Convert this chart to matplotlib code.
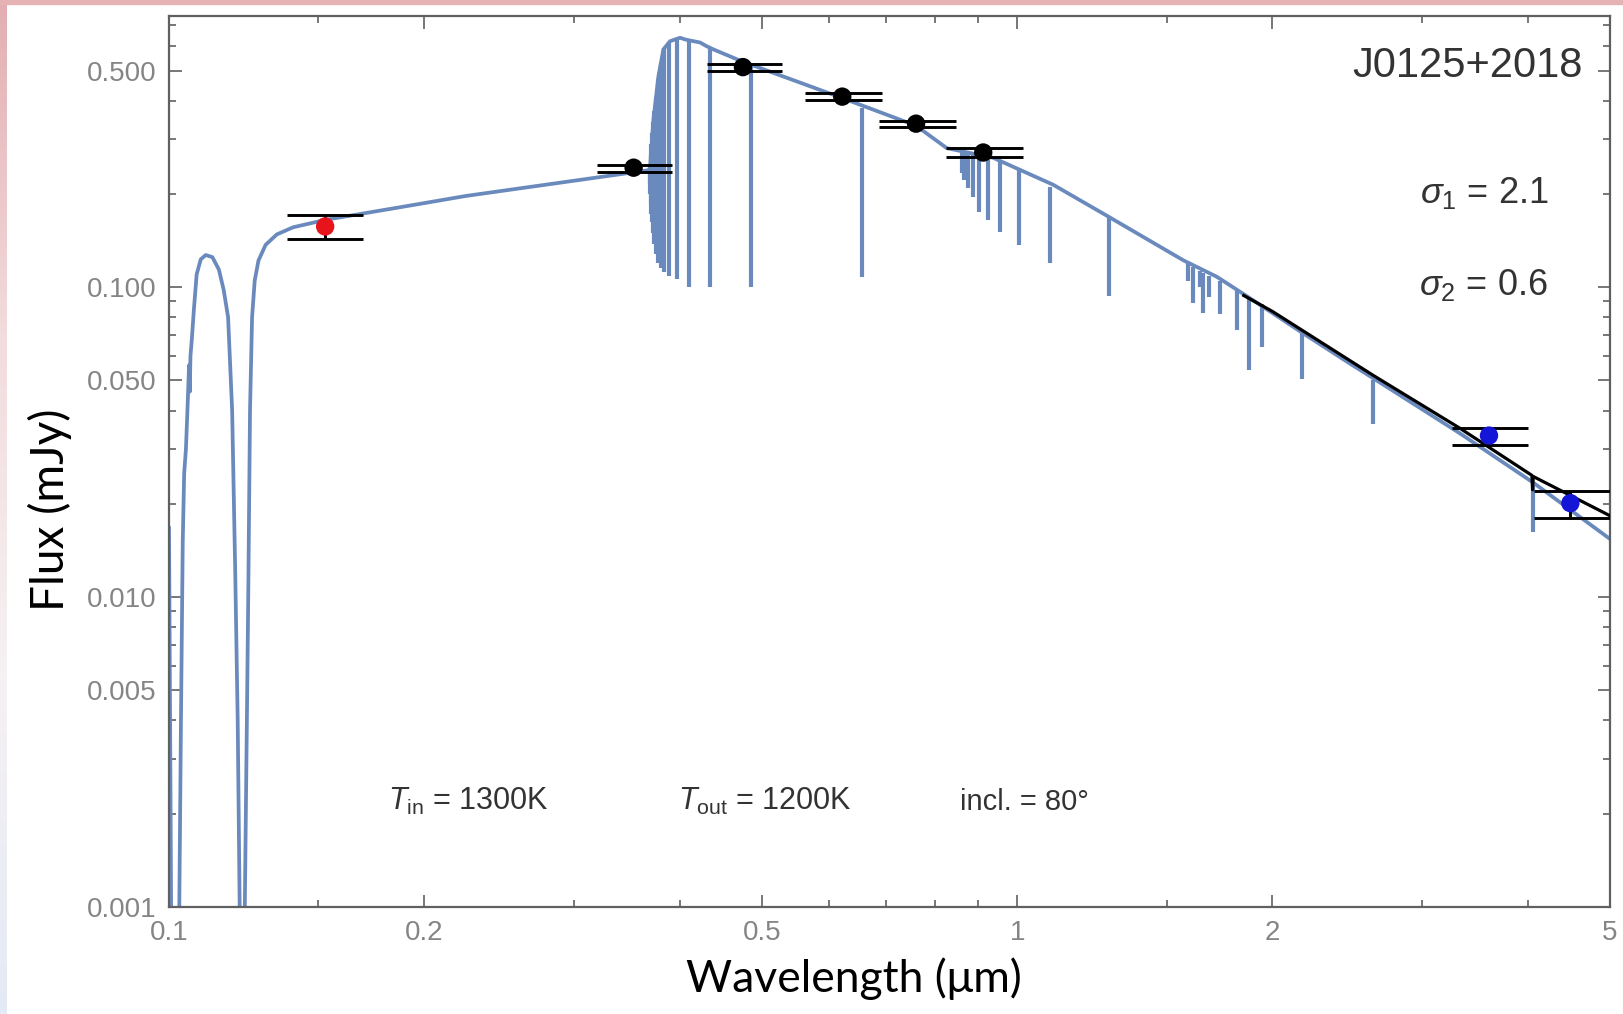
import numpy as np
import matplotlib.pyplot as plt
from matplotlib.colors import LinearSegmentedColormap
from matplotlib.patches import Rectangle

plt.rcParams['font.family'] = ['Liberation Sans', 'DejaVu Sans']
plt.rcParams['mathtext.fontset'] = 'custom'
plt.rcParams['mathtext.rm'] = 'Liberation Sans'
plt.rcParams['mathtext.it'] = 'Liberation Sans:italic'

# white dwarf model continuum (wavelength in um, flux in mJy)
spec_wl = [0.1000, 0.1003, 0.1006, 0.1028, 0.1033, 0.1038, 0.1042, 0.1047, 0.1052,
           0.1056, 0.1058, 0.1060, 0.1064, 0.1070, 0.1078, 0.1090, 0.1105, 0.1125,
           0.1145, 0.1160, 0.1174, 0.1187, 0.1197, 0.1205, 0.1212, 0.1228, 0.1234,
           0.1240, 0.1246, 0.1253, 0.1262, 0.1275, 0.1300, 0.1340, 0.1400, 0.1530,
           0.1870, 0.2240, 0.3540, 0.3660, 0.3690, 0.3725, 0.3776, 0.3827, 0.3897,
           0.4005, 0.4060, 0.4153, 0.4228, 0.4300, 0.4385, 0.474, 0.620, 0.760,
           0.826, 0.937, 1.103, 1.276, 1.571, 1.72, 1.883, 2.176, 2.47, 2.63, 3.33,
           4.06, 5.0]
spec_flux = [0.0167, 0.004, 0.0009, 0.0009, 0.004, 0.015, 0.025, 0.030, 0.042,
             0.056, 0.046, 0.060, 0.068, 0.085, 0.110, 0.123, 0.127, 0.125,
             0.114, 0.098, 0.080, 0.040, 0.012, 0.004, 0.0009, 0.0009, 0.003,
             0.010, 0.040, 0.080, 0.105, 0.122, 0.137, 0.148, 0.156, 0.165,
             0.181, 0.197, 0.235, 0.238, 0.240, 0.347, 0.479, 0.585, 0.622,
             0.638, 0.630, 0.622, 0.616, 0.600, 0.585, 0.535, 0.409, 0.332,
             0.281, 0.2615, 0.214, 0.170, 0.122, 0.108, 0.092, 0.0708, 0.0566,
             0.0508, 0.0337, 0.0234, 0.0154]

# hydrogen absorption lines: wavelength, continuum level, line bottom
line_wl = [0.3688, 0.3692, 0.3697, 0.3704, 0.3712, 0.3722, 0.3734, 0.3750, 0.3771,
           0.3798, 0.3835, 0.3889, 0.3970, 0.4102, 0.4340, 0.4861, 0.6563,
           0.8600, 0.8665, 0.8750, 0.8863, 0.9015, 0.9229, 0.9546, 1.0049, 1.0938,
           1.2818, 1.5885, 1.6114, 1.6412, 1.6580, 1.6811, 1.7367, 1.8179, 1.8756,
           1.9451, 2.1661, 2.6259, 4.0523]
line_top = [0.235, 0.25, 0.27, 0.29, 0.315, 0.34, 0.37, 0.41, 0.47,
            0.53, 0.59, 0.62, 0.635, 0.63, 0.59, 0.52, 0.38,
            0.276, 0.275, 0.274, 0.272, 0.269, 0.264, 0.256, 0.242, 0.210,
            0.170, 0.120, 0.116, 0.113, 0.111, 0.109, 0.105, 0.098, 0.093,
            0.088, 0.071, 0.050, 0.0236]
line_bot = [0.215, 0.20, 0.185, 0.172, 0.162, 0.15, 0.138, 0.128, 0.12,
            0.115, 0.112, 0.109, 0.106, 0.100, 0.100, 0.100, 0.108,
            0.233, 0.222, 0.209, 0.196, 0.175, 0.165, 0.151, 0.137, 0.120,
            0.094, 0.105, 0.0888, 0.100, 0.0824, 0.093, 0.0822, 0.0726, 0.0539,
            0.064, 0.0506, 0.0362, 0.0162]

# white dwarf + disk model in the infrared
disk_wl = [1.85, 2.0, 2.63, 3.33, 4.045, 4.052, 4.06, 5.0]
disk_flux = [0.094, 0.0835, 0.0519, 0.035, 0.0247, 0.0222, 0.0245, 0.0183]

# photometry: GALEX (red), SDSS (black), IRAC (blue)
uv_wl = [0.1528]
uv_flux = [0.157]
uv_lo = [0.143]
uv_hi = [0.171]
uv_wmin = [0.1378]
uv_wmax = [0.1694]

opt_wl = [0.353, 0.475, 0.622, 0.760, 0.912]
opt_flux = [0.243, 0.513, 0.412, 0.337, 0.272]
opt_lo = [0.235, 0.499, 0.402, 0.329, 0.264]
opt_hi = [0.247, 0.524, 0.422, 0.345, 0.281]
opt_wmin = [0.320, 0.431, 0.562, 0.688, 0.825]
opt_wmax = [0.392, 0.528, 0.693, 0.847, 1.016]

ir_wl = [3.6, 4.49]
ir_flux = [0.0332, 0.0201]
ir_lo = [0.031, 0.018]
ir_hi = [0.035, 0.022]
ir_wmin = [3.26, 4.07]
ir_wmax = [4.0, 5.0]

x_major = [0.1, 0.2, 0.5, 1, 2, 5]
x_major_labels = ["0.1", "0.2", "0.5", "1", "2", "5"]
x_minor = [0.15, 0.3, 0.4, 0.6, 0.7, 0.8, 0.9, 1.5, 3, 4]
y_major = [0.001, 0.005, 0.01, 0.05, 0.1, 0.5]
y_major_labels = ["0.001", "0.005", "0.010", "0.050", "0.100", "0.500"]
y_minor = [0.002, 0.003, 0.004, 0.006, 0.007, 0.008, 0.009,
           0.02, 0.03, 0.04, 0.06, 0.07, 0.08, 0.09,
           0.2, 0.3, 0.4, 0.6, 0.7]

spec_color = "#6a8abd"
tick_color = "#606060"
label_gray = "#858585"
text_dark = "#333333"

fig = plt.figure(figsize=(16.23, 10.14), dpi=100)

# slide background strips
bg = fig.add_axes([0, 0, 7 / 1623, 1], zorder=-5)
grad = LinearSegmentedColormap.from_list("slide", ["#e4eaf6", "#f6f1f3", "#f2dcdd", "#e3aeb1"])
bg.imshow(np.linspace(0, 1, 256).reshape(-1, 1), aspect="auto", cmap=grad,
          origin="lower", extent=[0, 1, 0, 1])
bg.axis("off")
fig.patches.append(Rectangle((0, 1 - 4 / 1014), 1, 4 / 1014, transform=fig.transFigure,
                             color="#e6b3b5", zorder=-4))

ax = fig.add_axes([169 / 1623, 1 - 907 / 1014, 1441 / 1623, 891 / 1014])
ax.set_xscale("log")
ax.set_yscale("log")
ax.set_xlim(0.1, 5.0)
ax.set_ylim(0.001, 0.75)

# model spectrum
ax.plot(spec_wl, spec_flux, color=spec_color, lw=2.7, zorder=2, solid_joinstyle="round")
ax.vlines(line_wl, line_bot, line_top, color=spec_color, lw=3.0, zorder=2)
ax.plot(disk_wl, disk_flux, color="black", lw=2.3, zorder=3)

# photometry with band widths
for wl, fl, lo, hi, wmin, wmax, col in [
    (uv_wl, uv_flux, uv_lo, uv_hi, uv_wmin, uv_wmax, "#e8141c"),
    (opt_wl, opt_flux, opt_lo, opt_hi, opt_wmin, opt_wmax, "black"),
    (ir_wl, ir_flux, ir_lo, ir_hi, ir_wmin, ir_wmax, "#1515d8"),
]:
    ax.hlines(hi, wmin, wmax, color="black", lw=2.1, zorder=4)
    ax.hlines(lo, wmin, wmax, color="black", lw=2.1, zorder=4)
    ax.vlines(wl, lo, hi, color="black", lw=2.1, zorder=4)
    ax.scatter(wl, fl, s=175, color=col, zorder=5, edgecolors="none")

# ticks in Mathematica frame style
ax.xaxis.set_major_locator(plt.FixedLocator(x_major))
ax.xaxis.set_minor_locator(plt.FixedLocator(x_minor))
ax.set_xticklabels(x_major_labels)
ax.xaxis.set_minor_formatter(plt.NullFormatter())
ax.yaxis.set_major_locator(plt.FixedLocator(y_major))
ax.yaxis.set_minor_locator(plt.FixedLocator(y_minor))
ax.set_yticklabels(y_major_labels)
ax.yaxis.set_minor_formatter(plt.NullFormatter())
ax.tick_params(which="both", direction="in", top=True, right=True, color=tick_color,
               width=1.2, labelsize=20, labelcolor=label_gray, pad=9)
ax.tick_params(which="major", length=9)
ax.tick_params(which="minor", length=5)
for sp in ax.spines.values():
    sp.set_color(tick_color)
    sp.set_linewidth(1.6)

# annotations
ax.text(0.981, 0.944, "J0125+2018", transform=ax.transAxes, ha="right", va="center",
        fontsize=30, color=text_dark)
ax.text(0.957, 0.790, r"$\sigma_1$ = 2.1", transform=ax.transAxes, ha="right",
        va="baseline", fontsize=26, color=text_dark)
ax.text(0.957, 0.687, r"$\sigma_2$ = 0.6", transform=ax.transAxes, ha="right",
        va="baseline", fontsize=26, color=text_dark)
ax.text(0.152, 0.109, r"$T_{\rm in}$ = 1300K", transform=ax.transAxes, ha="left",
        va="baseline", fontsize=22, color=text_dark)
ax.text(0.353, 0.109, r"$T_{\rm out}$ = 1200K", transform=ax.transAxes, ha="left",
        va="baseline", fontsize=22, color=text_dark)
ax.text(0.549, 0.109, "incl. = 80°", transform=ax.transAxes, ha="left",
        va="baseline", fontsize=21, color=text_dark)

fig.text(0.526, 0.0217, "Wavelength (μm)", ha="center", va="baseline",
         fontsize=32, family=["Lato", "DejaVu Sans"], color="black")
fig.text(0.031, 0.497, "Flux (mJy)", ha="center", va="center", rotation=90,
         fontsize=33, family=["Lato", "DejaVu Sans"], color="black")

fig.savefig("out.png", dpi=100)
